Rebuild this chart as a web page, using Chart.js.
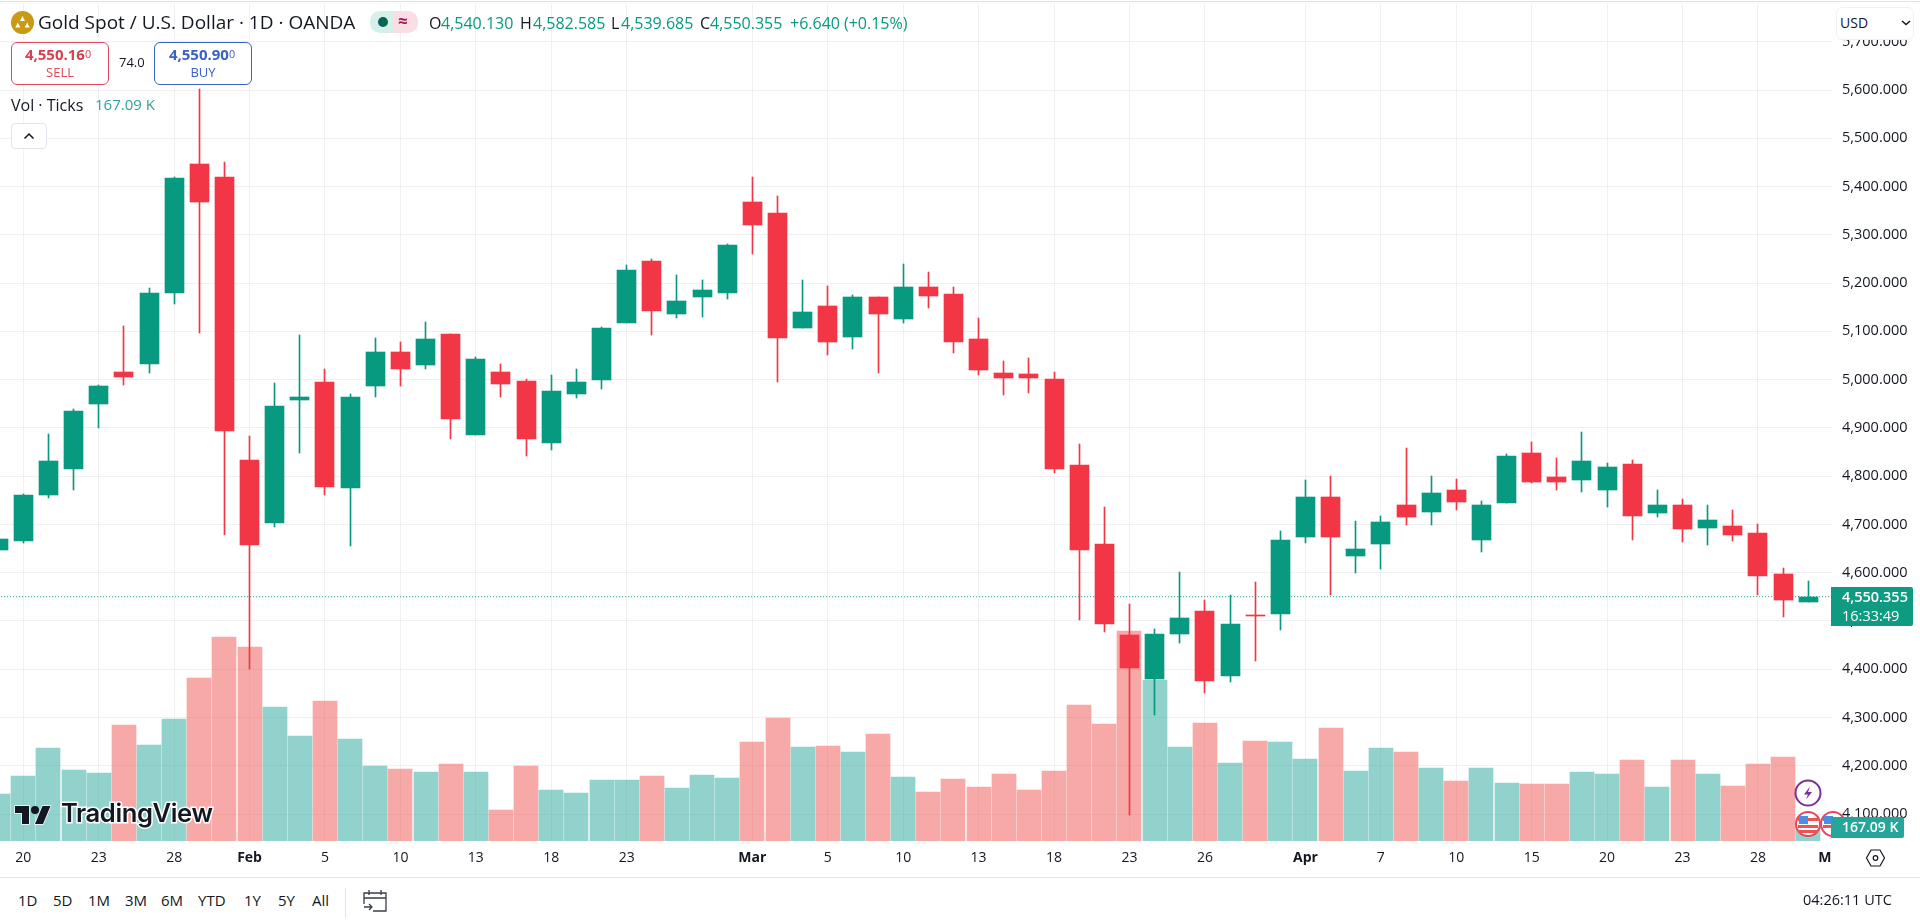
<!DOCTYPE html>
<html>
<head>
<meta charset="utf-8">
<title>Gold Spot / U.S. Dollar</title>
<script src="https://cdn.jsdelivr.net/npm/chart.js@4"></script>
<style>
html,body{margin:0;padding:0;background:#fff;width:1920px;height:921px;overflow:hidden;font-family:"Open Sans",sans-serif;color:#131722}
#c{position:absolute;left:0;top:0}
.t{position:absolute;white-space:nowrap;line-height:1}
.g{color:#089981}
.box{position:absolute;box-sizing:border-box;background:#fff}
svg{position:absolute;overflow:visible}
sup{font-size:.72em;vertical-align:baseline;position:relative;top:-.2em;font-weight:400}
</style>
</head>
<body>
<canvas id="c" width="1920" height="877"></canvas>
<div class="box" style="left:0;top:1px;width:1920px;height:1px;background:#e0e3e6"></div>
<div class="box" style="left:0;top:877px;width:1920px;height:1px;background:#e0e3eb"></div>

<svg style="left:11px;top:11px" width="23" height="23" viewBox="0 0 23 23"><circle cx="11.5" cy="11.5" r="11.5" fill="#c99a12"/><path d="M11.5 5l2.500 5h-5zM6.800 11.500l2.500 5h-5zM16.200 11.500l2.500 5h-5z" fill="#fff"/></svg>
<div class="t" style="left:38px;top:13px;font-size:19px">Gold Spot / U.S. Dollar · 1D · OANDA</div>
<div class="box" style="left:370px;top:11px;width:24px;height:22px;background:#d5efe9;border-radius:10px 0 0 10px"></div>
<div class="box" style="left:394px;top:11px;width:24px;height:22px;background:#fbdde6;border-radius:0 10px 10px 0"></div>
<div class="box" style="left:378px;top:17px;width:10px;height:10px;border-radius:50%;background:#056656"></div>
<div class="t" style="left:398px;top:12px;font-size:17px;color:#a3195b;font-weight:700">≈</div>
<div class="t" style="left:429px;top:15px;font-size:16px">O</div><div class="t g" style="left:441px;top:15px;font-size:16px">4,540.130</div>
<div class="t" style="left:520px;top:15px;font-size:16px">H</div><div class="t g" style="left:533px;top:15px;font-size:16px">4,582.585</div>
<div class="t" style="left:611px;top:15px;font-size:16px">L</div><div class="t g" style="left:621px;top:15px;font-size:16px">4,539.685</div>
<div class="t" style="left:700px;top:15px;font-size:16px">C</div><div class="t g" style="left:710px;top:15px;font-size:16px">4,550.355</div>
<div class="t g" style="left:790px;top:15px;font-size:16px">+6.640</div>
<div class="t g" style="left:844px;top:15px;font-size:16px">(+0.15%)</div>

<div class="box" style="left:11px;top:42px;width:98px;height:43px;border:1px solid #e4485f;border-radius:6px"></div>
<div class="t" style="left:9px;width:98px;text-align:center;top:47px;font-size:15px;font-weight:700;color:#d8404f">4,550.16<sup>0</sup></div>
<div class="t" style="left:11px;width:98px;text-align:center;top:66px;font-size:13px;color:#e04a5a">SELL</div>
<div class="t" style="left:119px;top:56px;font-size:13px">74.0</div>
<div class="box" style="left:154px;top:42px;width:98px;height:43px;border:1px solid #3a62c4;border-radius:6px"></div>
<div class="t" style="left:153px;width:98px;text-align:center;top:47px;font-size:15px;font-weight:700;color:#3a62c4">4,550.90<sup>0</sup></div>
<div class="t" style="left:154px;width:98px;text-align:center;top:66px;font-size:13px;color:#3a62c4">BUY</div>

<div class="t" style="left:11px;top:97px;font-size:16px">Vol · Ticks</div>
<div class="t" style="left:95px;top:97px;font-size:15px;color:#2fa596">167.09 K</div>
<div class="box" style="left:11px;top:123px;width:36px;height:26px;border:1px solid #e0e3eb;border-radius:4px"></div>
<svg style="left:23px;top:132px" width="12" height="8" viewBox="0 0 12 8"><path d="M1.5 6.5L6 2l4.500 4.500" fill="none" stroke="#131722" stroke-width="1.5"/></svg>

<div class="box" style="left:1836px;top:7px;width:78px;height:33px;border:1px solid #f0f1f3;border-radius:6px"></div>
<div class="t" style="left:1840px;top:16px;font-size:14px">USD</div>
<svg style="left:1901px;top:20px" width="10" height="6" viewBox="0 0 10 6"><path d="M1 1l4 3.500L9 1" fill="none" stroke="#131722" stroke-width="1.5"/></svg>

<svg style="left:15px;top:804px" width="36" height="22" viewBox="0 4 36 18"><path d="M14 22H7V11H0V4h14v18zM28 22h-8l7.500-18h8L28 22z" fill="#131722" stroke="#fff" stroke-width="1.5" paint-order="stroke"/><circle cx="20" cy="8" r="4" fill="#131722"/></svg>
<div class="t" style="left:61px;top:800px;font-size:25.6px;font-weight:600;font-family:Inter,sans-serif;letter-spacing:-.4px;color:#131722;-webkit-text-stroke:3px #fff;paint-order:stroke fill">TradingView</div>

<svg style="left:1794px;top:779px" width="28" height="28" viewBox="0 0 28 28"><circle cx="14" cy="14" r="12.5" fill="#fff" stroke="#7b2d9e" stroke-width="2"/><path d="M16 7.500l-6 8h4l-2 5 6-7.500h-4z" fill="#7b2d9e"/></svg>
<svg style="left:1819px;top:810px" width="28" height="28" viewBox="0 0 28 28"><circle cx="14" cy="14" r="12" fill="#fff" stroke="#e4485f" stroke-width="2"/><rect x="4" y="8" width="20" height="3" fill="#ef5350"/><rect x="4" y="15" width="20" height="3" fill="#ef5350"/><rect x="5" y="6" width="9" height="8" fill="#4a90e2"/></svg>
<svg style="left:1794px;top:810px" width="28" height="28" viewBox="0 0 28 28"><circle cx="14" cy="14" r="12" fill="#fff" stroke="#e4485f" stroke-width="2"/><rect x="4" y="8" width="20" height="3" fill="#ef5350"/><rect x="4" y="15" width="20" height="3" fill="#ef5350"/><rect x="4" y="20" width="20" height="3" fill="#ef5350"/><rect x="5" y="6" width="9" height="8" fill="#4a90e2"/></svg>

<div class="box" style="left:1831px;top:587px;width:82px;height:39px;background:#0f9b82;border-radius:0 2px 2px 0"></div>
<div class="t" style="left:1842px;top:590px;font-size:14.5px;font-weight:600;color:#fff">4,550.355</div>
<div class="t" style="left:1842px;top:609px;font-size:14.5px;color:#fff">16:33:49</div>
<div class="box" style="left:1831px;top:817px;width:73px;height:21px;background:#26a69a;border-radius:0 2px 2px 0"></div>
<div class="t" style="left:1842px;top:820px;font-size:14px;font-weight:600;color:#fff">167.09 K</div>
<svg style="left:1866px;top:849px" width="19" height="18" viewBox="0 0 19 18"><path d="M5 1h9l4.500 8-4.500 8H5L.5 9z" fill="none" stroke="#131722" stroke-width="1.200"/><circle cx="9.500" cy="9" r="2.300" fill="none" stroke="#131722" stroke-width="1.200"/></svg>

<div class="t" style="left:18px;top:893px;font-size:15px">1D</div>
<div class="t" style="left:53px;top:893px;font-size:15px">5D</div>
<div class="t" style="left:88px;top:893px;font-size:15px">1M</div>
<div class="t" style="left:125px;top:893px;font-size:15px">3M</div>
<div class="t" style="left:161px;top:893px;font-size:15px">6M</div>
<div class="t" style="left:198px;top:893px;font-size:15px">YTD</div>
<div class="t" style="left:244px;top:893px;font-size:15px">1Y</div>
<div class="t" style="left:278px;top:893px;font-size:15px">5Y</div>
<div class="t" style="left:312px;top:893px;font-size:15px">All</div>
<div class="box" style="left:345px;top:888px;width:1px;height:30px;background:#e0e3eb"></div>
<svg style="left:363px;top:888px" width="24" height="24" viewBox="0 0 24 24"><path d="M1 16V5h22v18H10M1 10h22M6 2v5M18 2v5M1 19h8m-3-3l3 3-3 3" fill="none" stroke="#3a3e47" stroke-width="1.300"/></svg>
<div class="t" style="left:1803px;top:893px;font-size:14.5px">04:26:11 UTC</div>

<script>
const opens = [4647,4666,4762,4815,4950,5016,5032,5180,5447,5420,4833,4702,4958,4995,4776,4987,5057,5030,5095,4886,5016,4997,4869,4971,5000,5118,5246,5135,5172,5180,5368,5345,5106,5153,5089,5171,5126,5192,5177,5084,5014,5012,5001,4823,4659,4471,4380,4474,4521,4386,4512.5,4515,4673,4757,4635,4659,4740,4726,4771,4668,4744,4848,4798,4792,4771,4825,4724,4740,4693,4697,4682,4597,4540.13];
const highs = [4672,4764,4887,4940,4989,5111,5189,5420,5602,5451,4883,4992,5092,5023,4970,5086,5078,5119,5095,5047,5032,5001,5010,5022,5109,5237,5250,5217,5206,5281,5420,5380,5206,5194,5175,5171,5240,5223,5192,5128,5039,5045,5016,4867,4736,4535,4483,4601,4543,4554,4581,4686,4792,4800,4707,4717,4858,4800,4794,4749,4846,4871,4838,4891,4827,4833,4771,4753,4740,4730,4701,4610,4582.585];
const lows = [4644,4661,4755,4772,4900,4989,5014,5157,5097,4679,4401,4695,4848,4760,4656,4965,4987,5021,4878,4886,4965,4842,4855,4961,4981,5118,5093,5128,5130,5168,5260,4996,5106,5052,5064,5014,5118,5149,5056,5010,4968,4972,4807,4502,4478,4098,4305,4455,4351,4374,4417,4481,4662,4554,4599,4608,4699,4699,4730,4643,4744,4786,4771,4767,4736,4668,4715,4664,4657,4666,4554,4508,4539.685];
const closes = [4669,4762,4831,4935,4987,5006,5179,5418,5369,4894,4658,4945,4964,4778,4964,5057,5022,5084,4919,5043,4990,4876,4976,4995,5107,5227,5143,5163,5186,5279,5321,5087,5140,5079,5171,5137,5192,5174,5077,5019,5003,5003,4815,4648,4494,4403,4473,4506,4376,4494,4511,4668,4757,4674,4649,4705,4715,4765,4746,4740,4842,4788,4788,4831,4819,4717,4740,4691,4709,4678,4593,4543.715,4550.355];
const volumes = [561,775,1109,847,811,1384,1145,1455,1945,2434,2314,1599,1253,1670,1217,895,859,823,919,823,370,895,608,573,728,728,775,632,787,752,1181,1467,1121,1133,1062,1277,764,585,740,644,799,608,835,1622,1396,2505,1921,1121,1408,931,1193,1181,978,1348,835,1109,1062,871,716,871,692,680,680,823,799,966,644,966,799,656,919,1002,167.09];
const tickIndexes = [1,4,7,10,13,16,19,22,25,30,33,36,39,42,45,48,52,55,58,61,64,67,70,73];
const tickLabels = ["20","23","28","Feb","5","10","13","18","23","Mar","5","10","13","18","23","26","Apr","7","10","15","20","23","28","M"];
const monthLabels = ["Feb","Mar","Apr","M"];
const priceTicks = [4100,4200,4300,4400,4500,4600,4700,4800,4900,5000,5100,5200,5300,5400,5500,5600,5700];

const UP="#089981", DOWN="#f23645", UPV="rgba(38,166,154,.5)", DOWNV="rgba(239,83,80,.5)";
const isUp = i => closes[i] >= opens[i];
const idx = closes.map((_,i)=>i);
const last = closes[closes.length-1];
const XMIN=0.073, XMAX=72.945;
const GRID="#f0f0f2";

// Snap the bars the scales placed onto whole pixels, as a crisp candle chart does.
const snapBars = {
  id:"snapBars",
  beforeDatasetsDraw(chart){
    chart.data.datasets.forEach((ds,d)=>{
      if(ds.type==="line") return;
      chart.getDatasetMeta(d).data.forEach(el=>{
        el.x = ds.label==="Vol" ? Math.round(el.x) : Math.floor(el.x)+0.5;
        el.y = Math.round(el.y);
        el.base = Math.round(el.base);
        if(el.base===el.y) el.base=el.y+1;
      });
    });
  }
};

new Chart(document.getElementById("c"),{
  type:"bar",
  plugins:[snapBars],
  data:{datasets:[
    {label:"Vol",yAxisID:"v",order:4,grouped:false,barThickness:24,data:idx.map(i=>({x:i,y:volumes[i]})),backgroundColor:idx.map(i=>isUp(i)?UPV:DOWNV)},
    {label:"Wick",yAxisID:"y",order:3,grouped:false,barThickness:1,data:idx.map(i=>({x:i,y:[lows[i],highs[i]]})),backgroundColor:idx.map(i=>isUp(i)?UP:DOWN)},
    {type:"line",label:"Last",yAxisID:"y",order:2,data:[{x:0,y:last},{x:73,y:last}],borderColor:UP,borderWidth:1,borderDash:[1,2],pointRadius:0},
    {label:"Body",yAxisID:"y",order:1,grouped:false,barThickness:19,minBarLength:1,data:idx.map(i=>({x:i,y:[opens[i],closes[i]]})),backgroundColor:idx.map(i=>isUp(i)?UP:DOWN)}
  ]},
  options:{
    responsive:false,animation:false,maintainAspectRatio:false,devicePixelRatio:1,
    layout:{padding:{top:4,left:0,right:0,bottom:0}},
    plugins:{legend:{display:false},tooltip:{enabled:false}},
    scales:{
      x:{type:"linear",offset:false,bounds:"data",min:XMIN,max:XMAX,
        border:{display:false},
        grid:{drawTicks:false,offset:false,color:c=>c.tick&&c.tick.value>72?"transparent":GRID},
        afterBuildTicks:s=>{s.ticks=tickIndexes.map(v=>({value:Math.min(v,XMAX-0.28)}));},
        afterFit:s=>{s.height=36;s.paddingLeft=0;s.paddingRight=0;},
        ticks:{autoSkip:false,maxRotation:0,padding:9,color:"#131722",
          font:c=>({family:"Open Sans",size:14,weight:monthLabels.includes(tickLabels[c.index])?"700":"400"}),
          callback:(v,i)=>tickLabels[i]}
      },
      y:{type:"linear",position:"right",min:4044.2,max:5778.2,bounds:"data",
        border:{display:false},
        grid:{drawTicks:false,color:GRID},
        afterBuildTicks:s=>{s.ticks=priceTicks.map(v=>({value:v}));},
        afterFit:s=>{s.width=88;s.paddingTop=0;s.paddingBottom=0;},
        ticks:{padding:10,color:"#131722",font:{family:"Open Sans",size:14.5},
          callback:v=>v.toLocaleString("en-US",{minimumFractionDigits:3,maximumFractionDigits:3})}
      },
      v:{type:"linear",display:false,min:0,max:9985}
    }
  }
});
</script>
</body>
</html>
